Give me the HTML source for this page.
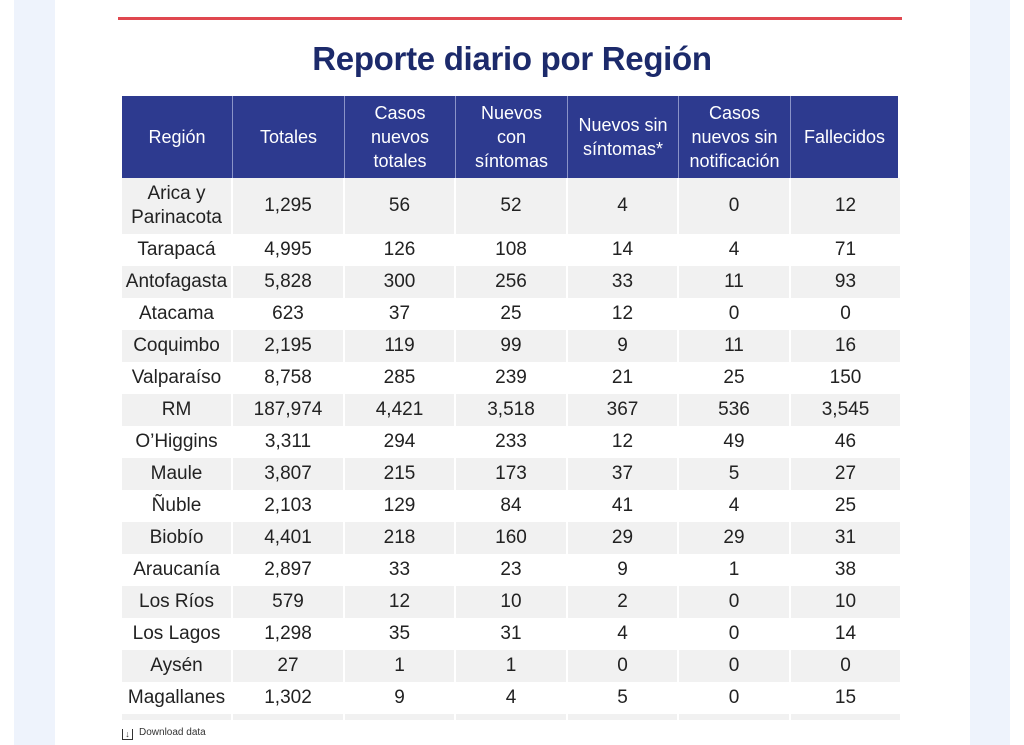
<!DOCTYPE html>
<html><head><meta charset="utf-8"><style>
*{margin:0;padding:0;box-sizing:border-box}
body{width:1024px;height:745px;overflow:hidden;background:#fff;font-family:"Liberation Sans",sans-serif;position:relative}
.bg1{position:absolute;left:14px;top:0;width:41px;height:745px;background:#eef3fc}
.bg2{position:absolute;left:970px;top:0;width:40px;height:745px;background:#eef3fc}
.red{position:absolute;left:118px;top:17px;width:784px;height:3px;background:#e0474f}
h1{position:absolute;left:0;width:1024px;top:40px;text-align:center;font-size:33px;font-weight:bold;color:#1c2a6b;letter-spacing:-0.3px}
.hdr{position:absolute;left:122px;top:96px;height:82px;display:flex}
.hdr div{background:#2d3a8f;color:#fff;font-size:18px;line-height:24px;display:flex;align-items:center;justify-content:center;text-align:center;border-right:1px solid #8a93c8;height:82px}
.row{position:absolute;left:122px;display:flex;height:32px}
.row div{font-size:19px;color:#222;display:flex;align-items:center;justify-content:center;text-align:center;border-right:2px solid #fff;line-height:24px}
.g div{background:#f1f1f1}
.dl{position:absolute;left:122px;top:727px;font-size:10px;color:#333}
.dl span{display:inline-block;width:11px;height:11px;border:1px solid #333;border-top:none;margin-right:6px;vertical-align:-2px;font-size:9px;text-align:center;line-height:10px}
</style></head><body>
<div class="bg1"></div><div class="bg2"></div>
<div class="red"></div>
<h1>Reporte diario por Región</h1>
<div class="hdr">
<div style="width:111px">Región</div>
<div style="width:112px">Totales</div>
<div style="width:111px">Casos<br>nuevos<br>totales</div>
<div style="width:112px">Nuevos<br>con<br>síntomas</div>
<div style="width:111px">Nuevos sin<br>síntomas*</div>
<div style="width:112px">Casos<br>nuevos sin<br>notificación</div>
<div style="width:107px;border-right:none">Fallecidos</div>
</div>
<div id="rows"></div>
<div class="dl"><span>↓</span>Download data</div>
<script>
var d=[["Arica y<br>Parinacota","1,295","56","52","4","0","12"],
["Tarapacá","4,995","126","108","14","4","71"],
["Antofagasta","5,828","300","256","33","11","93"],
["Atacama","623","37","25","12","0","0"],
["Coquimbo","2,195","119","99","9","11","16"],
["Valparaíso","8,758","285","239","21","25","150"],
["RM","187,974","4,421","3,518","367","536","3,545"],
["O’Higgins","3,311","294","233","12","49","46"],
["Maule","3,807","215","173","37","5","27"],
["Ñuble","2,103","129","84","41","4","25"],
["Biobío","4,401","218","160","29","29","31"],
["Araucanía","2,897","33","23","9","1","38"],
["Los Ríos","579","12","10","2","0","10"],
["Los Lagos","1,298","35","31","4","0","14"],
["Aysén","27","1","1","0","0","0"],
["Magallanes","1,302","9","4","5","0","15"],
["","","","","","",""]];
var w=[111,112,111,112,111,112,111],h="";
for(var i=0;i<d.length;i++){
 var ty=i==0?178:234+32*(i-1),ht=i==0?56:32;
 if(i==16)ht=6;
 h+='<div class="row'+(i%2==0?' g':'')+'" style="top:'+ty+'px;height:'+ht+'px">';
 for(var j=0;j<7;j++)h+='<div style="width:'+w[j]+'px;height:'+ht+'px">'+d[i][j]+'</div>';
 h+='</div>';
}
document.getElementById('rows').innerHTML=h;
</script>
</body></html>
